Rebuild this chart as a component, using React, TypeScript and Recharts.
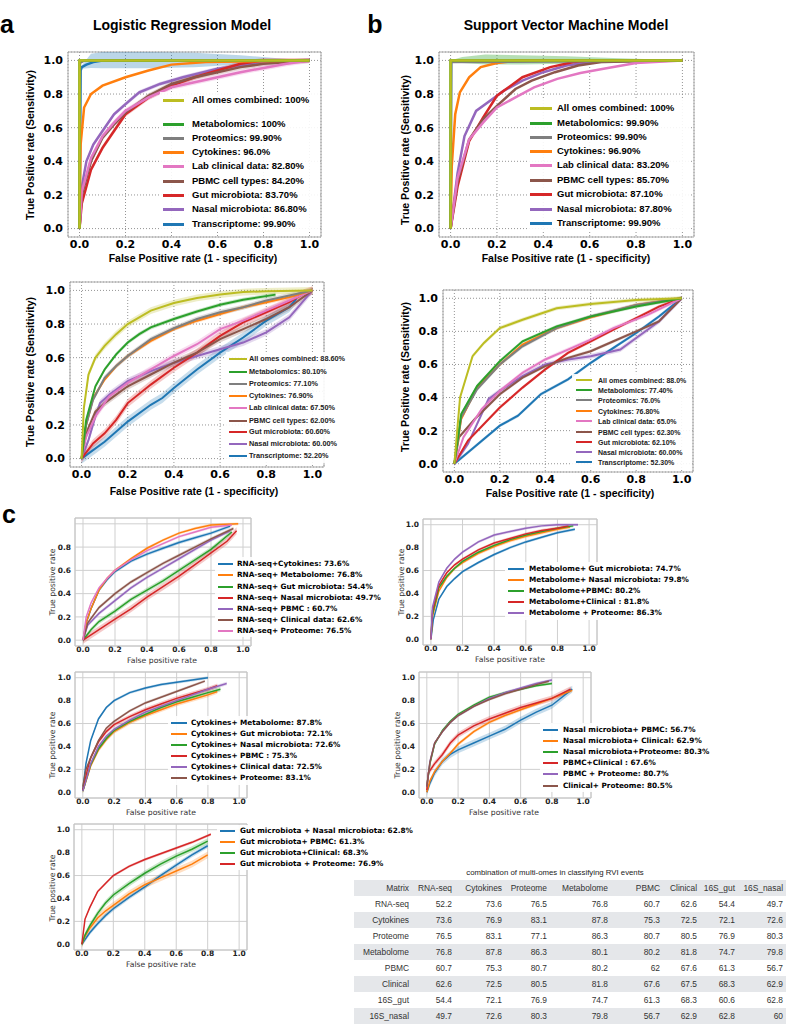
import React from "react";
import {
  ComposedChart,
  Line,
  Area,
  XAxis,
  YAxis,
  CartesianGrid,
  ReferenceArea,
} from "recharts";

type Pt = [number, number];
type Band = [number, number, number];

// tab10 colours
const BLUE = "#1f77b4";
const ORANGE = "#ff7f0e";
const GREEN = "#2ca02c";
const RED = "#d62728";
const PURPLE = "#9467bd";
const BROWN = "#8c564b";
const PINK = "#e377c2";
const GRAY = "#7f7f7f";
const OLIVE = "#bcbd22";

const omicsColors = [OLIVE, GREEN, GRAY, ORANGE, PINK, BROWN, RED, PURPLE, BLUE];

// ---------- a (top): logistic regression ----------
const lrNames = [
  "All omes combined: 100%",
  "Metabolomics: 100%",
  "Proteomics: 99.90%",
  "Cytokines: 96.0%",
  "Lab clinical data: 82.80%",
  "PBMC cell types: 84.20%",
  "Gut microbiota: 83.70%",
  "Nasal microbiota: 86.80%",
  "Transcriptome: 99.90%",
];
const lrAll: Pt[] = [[0, 0], [0, 1], [1, 1]];
const lrMetab: Pt[] = [[0, 0], [0, 1], [1, 1]];
const lrProt: Pt[] = [[0, 0], [0.002, 0.985], [0.02, 0.998], [1, 1]];
const lrCyto: Pt[] = [[0, 0], [0.005, 0.5], [0.02, 0.72], [0.05, 0.8], [0.1, 0.85], [0.2, 0.9], [0.3, 0.94], [0.4, 0.975], [0.55, 0.99], [1, 1]];
const lrLab: Pt[] = [[0, 0], [0.01, 0.22], [0.05, 0.42], [0.1, 0.55], [0.15, 0.63], [0.2, 0.7], [0.3, 0.78], [0.4, 0.84], [0.5, 0.87], [0.6, 0.9], [0.7, 0.93], [0.8, 0.955], [0.9, 0.98], [1, 1]];
const lrPbmc: Pt[] = [[0, 0], [0.01, 0.2], [0.05, 0.4], [0.1, 0.54], [0.15, 0.62], [0.2, 0.69], [0.3, 0.79], [0.4, 0.86], [0.5, 0.9], [0.6, 0.93], [0.7, 0.96], [0.8, 0.98], [1, 1]];
const lrGut: Pt[] = [[0, 0], [0.01, 0.15], [0.05, 0.35], [0.1, 0.48], [0.15, 0.58], [0.2, 0.68], [0.3, 0.78], [0.4, 0.85], [0.5, 0.9], [0.6, 0.94], [0.7, 0.98], [0.8, 1], [1, 1]];
const lrNasal: Pt[] = [[0, 0], [0.01, 0.25], [0.03, 0.4], [0.06, 0.5], [0.1, 0.58], [0.15, 0.68], [0.2, 0.74], [0.26, 0.81], [0.35, 0.86], [0.45, 0.9], [0.6, 0.95], [0.8, 0.99], [1, 1]];
const lrTrans: Pt[] = [[0, 0], [0.005, 0.94], [0.01, 0.96], [0.03, 0.975], [0.06, 0.99], [0.1, 1], [1, 1]];
const lrBandW = [0, 0, 0, 0, 0.015, 0.015, 0.015, 0.012, 0];
const lrTransBand: Band[] = [[0.01, 0.95, 0.97], [0.05, 0.955, 1.04], [0.1, 0.953, 1.05], [0.3, 0.953, 1.05], [0.5, 0.96, 1.045], [0.7, 0.975, 1.03], [0.85, 0.99, 1.015], [1, 1, 1]];

// ---------- b (top): support vector machine ----------
const svmNames = [
  "All omes combined: 100%",
  "Metabolomics: 99.90%",
  "Proteomics: 99.90%",
  "Cytokines: 96.90%",
  "Lab clinical data: 83.20%",
  "PBMC cell types: 85.70%",
  "Gut microbiota: 87.10%",
  "Nasal microbiota: 87.80%",
  "Transcriptome: 99.90%",
];
const svmAll: Pt[] = [[0, 0], [0, 1], [1, 1]];
const svmMetab: Pt[] = [[0, 0], [0, 1], [1, 1]];
const svmProt: Pt[] = [[0, 0], [0.003, 0.99], [1, 1]];
const svmCyto: Pt[] = [[0, 0], [0.005, 0.37], [0.02, 0.68], [0.04, 0.81], [0.08, 0.9], [0.13, 0.96], [0.2, 0.985], [0.3, 1], [1, 1]];
const svmLab: Pt[] = [[0, 0], [0.03, 0.3], [0.08, 0.53], [0.14, 0.63], [0.2, 0.72], [0.28, 0.78], [0.36, 0.84], [0.46, 0.89], [0.56, 0.925], [0.66, 0.95], [0.8, 0.985], [1, 1]];
const svmPbmc: Pt[] = [[0, 0], [0.03, 0.28], [0.08, 0.53], [0.14, 0.65], [0.2, 0.73], [0.28, 0.83], [0.35, 0.88], [0.45, 0.93], [0.55, 0.97], [0.65, 0.99], [1, 1]];
const svmGut: Pt[] = [[0, 0], [0.03, 0.25], [0.08, 0.52], [0.14, 0.66], [0.2, 0.79], [0.31, 0.9], [0.43, 0.96], [0.53, 0.99], [0.6, 1], [1, 1]];
const svmNasal: Pt[] = [[0, 0], [0.03, 0.33], [0.06, 0.55], [0.11, 0.7], [0.2, 0.79], [0.23, 0.82], [0.31, 0.88], [0.4, 0.93], [0.5, 0.97], [0.65, 1], [1, 1]];
const svmTrans: Pt[] = [[0, 0], [0.002, 0.995], [1, 1]];
const svmBandW = [0, 0, 0, 0, 0, 0, 0, 0, 0];
const svmMetabBand: Band[] = [[0, 1, 1], [0.05, 0.985, 1.02], [0.15, 0.975, 1.035], [0.3, 0.975, 1.03], [0.5, 0.98, 1.025], [0.7, 0.985, 1.015], [0.9, 0.995, 1.005], [1, 1, 1]];

// ---------- a (lower): logistic regression, second set ----------
const lr2Names = [
  "All omes combined: 88.60%",
  "Metabolomics: 80.10%",
  "Proteomics: 77.10%",
  "Cytokines: 76.90%",
  "Lab clinical data: 67.50%",
  "PBMC cell types: 62.00%",
  "Gut microbiota: 60.60%",
  "Nasal microbiota: 60.00%",
  "Transcriptome: 52.20%",
];
const lr2All: Pt[] = [[0, 0], [0.01, 0.3], [0.03, 0.5], [0.06, 0.6], [0.1, 0.67], [0.15, 0.74], [0.2, 0.8], [0.3, 0.88], [0.4, 0.925], [0.5, 0.955], [0.6, 0.975], [0.7, 0.99], [0.8, 0.995], [1, 1]];
const lr2Metab: Pt[] = [[0, 0], [0.02, 0.23], [0.06, 0.43], [0.1, 0.53], [0.15, 0.62], [0.2, 0.69], [0.25, 0.74], [0.3, 0.78], [0.4, 0.83], [0.5, 0.875], [0.6, 0.915], [0.7, 0.945], [0.84, 0.975]];
const lr2Prot: Pt[] = [[0, 0], [0.02, 0.2], [0.05, 0.35], [0.1, 0.48], [0.15, 0.55], [0.2, 0.61], [0.3, 0.71], [0.4, 0.775], [0.5, 0.83], [0.6, 0.87], [0.7, 0.9], [0.8, 0.94], [0.9, 0.97], [1, 1]];
const lr2Cyto: Pt[] = [[0, 0], [0.02, 0.2], [0.05, 0.36], [0.1, 0.47], [0.15, 0.55], [0.2, 0.61], [0.3, 0.7], [0.4, 0.77], [0.5, 0.82], [0.6, 0.86], [0.7, 0.9], [0.8, 0.93], [0.9, 0.96], [1, 1]];
const lr2Lab: Pt[] = [[0, 0], [0.02, 0.13], [0.06, 0.25], [0.12, 0.37], [0.2, 0.45], [0.3, 0.53], [0.4, 0.61], [0.5, 0.68], [0.6, 0.77], [0.7, 0.82], [0.8, 0.88], [0.9, 0.94], [1, 1]];
const lr2Pbmc: Pt[] = [[0, 0], [0.02, 0.15], [0.06, 0.28], [0.1, 0.33], [0.15, 0.38], [0.2, 0.43], [0.3, 0.5], [0.4, 0.57], [0.5, 0.63], [0.6, 0.71], [0.7, 0.77], [0.8, 0.83], [0.9, 0.9], [1, 1]];
const lr2Gut: Pt[] = [[0, 0], [0.05, 0.09], [0.1, 0.15], [0.15, 0.23], [0.2, 0.33], [0.3, 0.44], [0.4, 0.54], [0.5, 0.63], [0.6, 0.73], [0.7, 0.81], [0.8, 0.87], [0.9, 0.93], [0.96, 0.98], [1, 1]];
const lr2Nasal: Pt[] = [[0, 0], [0.03, 0.11], [0.06, 0.25], [0.08, 0.33], [0.12, 0.38], [0.2, 0.46], [0.3, 0.52], [0.4, 0.57], [0.5, 0.61], [0.6, 0.65], [0.7, 0.69], [0.8, 0.75], [0.9, 0.84], [1, 1]];
const lr2Trans: Pt[] = [[0, 0], [0.05, 0.05], [0.1, 0.1], [0.2, 0.22], [0.3, 0.32], [0.35, 0.36], [0.4, 0.42], [0.5, 0.53], [0.6, 0.63], [0.7, 0.72], [0.8, 0.82], [0.9, 0.9], [0.93, 0.95]];
const lr2BandW = [0.02, 0.012, 0.015, 0.012, 0.02, 0.02, 0.025, 0.02, 0.03];

// ---------- b (lower): support vector machine, second set ----------
const svm2Names = [
  "All omes combined: 88.0%",
  "Metabolomics: 77.40%",
  "Proteomics: 76.0%",
  "Cytokines: 76.80%",
  "Lab clinical data: 65.0%",
  "PBMC cell types: 62.30%",
  "Gut microbiota: 62.10%",
  "Nasal microbiota: 60.00%",
  "Transcriptome: 52.30%",
];
const svm2All: Pt[] = [[0, 0], [0.025, 0.4], [0.08, 0.65], [0.13, 0.73], [0.2, 0.82], [0.3, 0.87], [0.45, 0.94], [0.6, 0.965], [0.8, 0.99], [1, 1]];
const svm2Metab: Pt[] = [[0, 0], [0.03, 0.3], [0.1, 0.47], [0.2, 0.62], [0.3, 0.74], [0.45, 0.83], [0.6, 0.89], [0.8, 0.95], [1, 1]];
const svm2Prot: Pt[] = [[0, 0], [0.03, 0.28], [0.1, 0.45], [0.2, 0.6], [0.3, 0.71], [0.45, 0.82], [0.6, 0.89], [0.8, 0.96], [1, 1]];
const svm2Cyto: Pt[] = [[0, 0], [0.03, 0.27], [0.1, 0.46], [0.2, 0.6], [0.3, 0.72], [0.45, 0.82], [0.6, 0.885], [0.8, 0.96], [1, 1]];
const svm2Lab: Pt[] = [[0, 0], [0.04, 0.16], [0.12, 0.33], [0.2, 0.44], [0.3, 0.55], [0.4, 0.63], [0.5, 0.69], [0.6, 0.75], [0.7, 0.82], [0.85, 0.9], [1, 1]];
const svm2Pbmc: Pt[] = [[0, 0], [0.02, 0.16], [0.09, 0.27], [0.2, 0.42], [0.3, 0.52], [0.4, 0.59], [0.5, 0.64], [0.6, 0.68], [0.7, 0.74], [0.8, 0.8], [0.9, 0.86], [1, 1]];
const svm2Gut: Pt[] = [[0, 0], [0.06, 0.14], [0.2, 0.34], [0.3, 0.46], [0.4, 0.57], [0.5, 0.67], [0.6, 0.74], [0.7, 0.81], [0.8, 0.88], [0.9, 0.95], [1, 1]];
const svm2Nasal: Pt[] = [[0, 0], [0.06, 0.12], [0.15, 0.39], [0.2, 0.44], [0.3, 0.53], [0.4, 0.6], [0.5, 0.63], [0.6, 0.65], [0.73, 0.69], [0.8, 0.76], [0.9, 0.86], [1, 1]];
const svm2Trans: Pt[] = [[0, 0], [0.07, 0.08], [0.2, 0.23], [0.28, 0.29], [0.38, 0.42], [0.5, 0.51], [0.6, 0.61], [0.7, 0.7], [0.8, 0.79], [0.9, 0.89], [1, 1]];
const svm2BandW = [0.012, 0.01, 0.012, 0.01, 0.012, 0.01, 0.01, 0.015, 0.01];

// ---------- c: pairwise combinations ----------
const rnaNames = [
  "RNA-seq+Cytokines: 73.6%",
  "RNA-seq+ Metabolome: 76.8%",
  "RNA-seq+ Gut microbiota: 54.4%",
  "RNA-seq+ Nasal microbiota: 49.7%",
  "RNA-seq+ PBMC : 60.7%",
  "RNA-seq+ Clinical data: 62.6%",
  "RNA-seq+ Proteome: 76.5%",
];
const rnaColors = [BLUE, ORANGE, GREEN, RED, PURPLE, BROWN, PINK];
const rnaCyto: Pt[] = [[0, 0], [0.02, 0.15], [0.05, 0.27], [0.1, 0.43], [0.15, 0.52], [0.2, 0.59], [0.3, 0.68], [0.4, 0.74], [0.5, 0.79], [0.6, 0.84], [0.7, 0.88], [0.8, 0.92], [0.92, 0.98]];
const rnaMetab: Pt[] = [[0, 0], [0.02, 0.15], [0.05, 0.27], [0.1, 0.43], [0.15, 0.53], [0.2, 0.6], [0.3, 0.7], [0.4, 0.79], [0.5, 0.86], [0.6, 0.92], [0.7, 0.96], [0.8, 0.99], [0.97, 1]];
const rnaGut: Pt[] = [[0, 0], [0.05, 0.09], [0.1, 0.16], [0.2, 0.25], [0.3, 0.35], [0.4, 0.43], [0.5, 0.51], [0.6, 0.6], [0.7, 0.69], [0.8, 0.78], [0.93, 0.93]];
const rnaNasal: Pt[] = [[0, 0], [0.1, 0.09], [0.2, 0.18], [0.3, 0.27], [0.4, 0.37], [0.5, 0.46], [0.6, 0.55], [0.7, 0.65], [0.8, 0.75], [0.9, 0.85], [0.96, 0.94]];
const rnaPbmc: Pt[] = [[0, 0], [0.03, 0.13], [0.1, 0.23], [0.2, 0.34], [0.3, 0.45], [0.4, 0.54], [0.5, 0.62], [0.6, 0.7], [0.7, 0.78], [0.8, 0.86], [0.92, 0.94]];
const rnaClin: Pt[] = [[0, 0], [0.03, 0.15], [0.1, 0.28], [0.2, 0.4], [0.3, 0.5], [0.4, 0.58], [0.5, 0.66], [0.6, 0.73], [0.7, 0.8], [0.8, 0.87], [0.94, 0.96]];
const rnaProt: Pt[] = [[0, 0], [0.02, 0.2], [0.05, 0.32], [0.1, 0.45], [0.15, 0.53], [0.2, 0.6], [0.3, 0.69], [0.4, 0.77], [0.5, 0.83], [0.6, 0.89], [0.7, 0.93], [0.8, 0.97], [0.93, 0.99]];
const rnaBandW = [0.015, 0.012, 0.02, 0.03, 0.015, 0.015, 0.012];

const metNames = [
  "Metabolome+ Gut microbiota: 74.7%",
  "Metabolome+ Nasal microbiota: 79.8%",
  "Metabolome+PBMC: 80.2%",
  "Metabolome+Clinical : 81.8%",
  "Metabolome + Proteome: 86.3%",
];
const metColors = [BLUE, ORANGE, GREEN, RED, PURPLE];
const metGut: Pt[] = [[0, 0], [0.015, 0.17], [0.05, 0.35], [0.1, 0.46], [0.15, 0.53], [0.2, 0.59], [0.3, 0.67], [0.4, 0.74], [0.5, 0.8], [0.6, 0.85], [0.7, 0.89], [0.8, 0.93], [0.91, 0.96]];
const metNasal: Pt[] = [[0, 0], [0.01, 0.2], [0.05, 0.42], [0.1, 0.54], [0.15, 0.62], [0.2, 0.67], [0.3, 0.75], [0.4, 0.81], [0.5, 0.86], [0.6, 0.9], [0.7, 0.93], [0.8, 0.96], [0.88, 0.98]];
const metPbmc: Pt[] = [[0, 0], [0.01, 0.22], [0.05, 0.45], [0.1, 0.55], [0.15, 0.62], [0.2, 0.68], [0.3, 0.76], [0.4, 0.82], [0.5, 0.87], [0.6, 0.91], [0.7, 0.94], [0.8, 0.97], [0.9, 0.99]];
const metClin: Pt[] = [[0, 0], [0.01, 0.25], [0.05, 0.47], [0.1, 0.58], [0.15, 0.65], [0.2, 0.7], [0.3, 0.78], [0.4, 0.84], [0.5, 0.88], [0.6, 0.92], [0.7, 0.95], [0.8, 0.97], [0.87, 0.99]];
const metProt: Pt[] = [[0, 0], [0.01, 0.28], [0.05, 0.5], [0.1, 0.62], [0.15, 0.7], [0.2, 0.76], [0.3, 0.85], [0.4, 0.91], [0.5, 0.94], [0.6, 0.97], [0.7, 0.99], [0.8, 1], [0.93, 1]];
const metBandW = [0.012, 0.015, 0.012, 0.012, 0.012];

const cytNames = [
  "Cytokines+ Metabolome: 87.8%",
  "Cytokines+ Gut microbiota: 72.1%",
  "Cytokines+ Nasal microbiota: 72.6%",
  "Cytokines+ PBMC : 75.3%",
  "Cytokines+ Clinical data: 72.5%",
  "Cytokines+ Proteome: 83.1%",
];
const cytColors = [BLUE, ORANGE, GREEN, RED, PURPLE, BROWN];
const cytMetab: Pt[] = [[0, 0.02], [0.02, 0.25], [0.05, 0.45], [0.1, 0.64], [0.15, 0.74], [0.2, 0.8], [0.3, 0.87], [0.4, 0.91], [0.5, 0.94], [0.6, 0.96], [0.7, 0.98], [0.8, 1]];
const cytGut: Pt[] = [[0, 0.01], [0.03, 0.14], [0.05, 0.23], [0.1, 0.37], [0.15, 0.46], [0.2, 0.53], [0.3, 0.61], [0.4, 0.67], [0.5, 0.72], [0.6, 0.77], [0.7, 0.81], [0.8, 0.85], [0.86, 0.88]];
const cytNasal: Pt[] = [[0, 0.01], [0.03, 0.15], [0.05, 0.24], [0.1, 0.38], [0.15, 0.47], [0.2, 0.54], [0.3, 0.62], [0.4, 0.68], [0.5, 0.74], [0.6, 0.79], [0.7, 0.83], [0.8, 0.87], [0.88, 0.9]];
const cytPbmc: Pt[] = [[0, 0.02], [0.03, 0.2], [0.05, 0.3], [0.1, 0.44], [0.15, 0.53], [0.2, 0.59], [0.3, 0.66], [0.4, 0.72], [0.5, 0.77], [0.6, 0.82], [0.7, 0.86], [0.8, 0.9], [0.86, 0.93]];
const cytClin: Pt[] = [[0, 0.01], [0.03, 0.15], [0.05, 0.25], [0.1, 0.4], [0.15, 0.49], [0.2, 0.55], [0.3, 0.63], [0.4, 0.7], [0.5, 0.75], [0.6, 0.8], [0.7, 0.85], [0.8, 0.9], [0.92, 0.95]];
const cytProt: Pt[] = [[0, 0.05], [0.02, 0.2], [0.05, 0.3], [0.1, 0.45], [0.15, 0.56], [0.2, 0.62], [0.3, 0.71], [0.4, 0.78], [0.5, 0.83], [0.6, 0.88], [0.7, 0.93], [0.78, 0.97]];
const cytBandW = [0.012, 0.02, 0.02, 0.02, 0.015, 0.012];

const nasNames = [
  "Nasal microbiota+ PBMC: 56.7%",
  "Nasal microbiota+ Clinical: 62.9%",
  "Nasal microbiota+Proteome: 80.3%",
  "PBMC+Clinical : 67.6%",
  "PBMC + Proteome: 80.7%",
  "Clinical+ Proteome: 80.5%",
];
const nasColors = [BLUE, ORANGE, GREEN, RED, PURPLE, BROWN];
const nasPbmc: Pt[] = [[0, 0], [0.02, 0.08], [0.05, 0.17], [0.1, 0.27], [0.15, 0.33], [0.2, 0.37], [0.3, 0.43], [0.4, 0.49], [0.5, 0.55], [0.6, 0.63], [0.7, 0.7], [0.8, 0.76], [0.93, 0.9]];
const nasClin: Pt[] = [[0, 0], [0.02, 0.1], [0.05, 0.18], [0.1, 0.27], [0.15, 0.34], [0.2, 0.42], [0.3, 0.53], [0.4, 0.61], [0.5, 0.67], [0.6, 0.72], [0.7, 0.77], [0.8, 0.82], [0.93, 0.89]];
const nasProt: Pt[] = [[0, 0.05], [0.02, 0.25], [0.05, 0.42], [0.1, 0.54], [0.15, 0.62], [0.2, 0.68], [0.3, 0.76], [0.4, 0.83], [0.5, 0.87], [0.6, 0.9], [0.7, 0.93], [0.8, 0.95]];
const pbmcClin: Pt[] = [[0, 0.02], [0.01, 0.17], [0.05, 0.25], [0.1, 0.33], [0.15, 0.43], [0.2, 0.5], [0.3, 0.58], [0.4, 0.64], [0.5, 0.69], [0.6, 0.74], [0.7, 0.78], [0.8, 0.82], [0.92, 0.9]];
const pbmcProt: Pt[] = [[0, 0.05], [0.02, 0.27], [0.05, 0.43], [0.1, 0.53], [0.15, 0.61], [0.2, 0.67], [0.3, 0.75], [0.4, 0.82], [0.5, 0.87], [0.6, 0.91], [0.7, 0.95], [0.8, 0.98]];
const clinProt: Pt[] = [[0, 0.05], [0.02, 0.26], [0.05, 0.43], [0.1, 0.53], [0.15, 0.61], [0.2, 0.67], [0.3, 0.75], [0.4, 0.81], [0.5, 0.86], [0.6, 0.9], [0.7, 0.94], [0.78, 0.97]];
const nasBandW = [0.03, 0.015, 0.012, 0.025, 0.012, 0.012];

const gutNames = [
  "Gut microbiota + Nasal microbiota: 62.8%",
  "Gut microbiota+ PBMC: 61.3%",
  "Gut microbiota+Clinical: 68.3%",
  "Gut microbiota + Proteome: 76.9%",
];
const gutColors = [BLUE, ORANGE, GREEN, RED];
const gutNasal: Pt[] = [[0, 0], [0.02, 0.04], [0.05, 0.1], [0.1, 0.18], [0.15, 0.25], [0.2, 0.31], [0.3, 0.41], [0.4, 0.5], [0.5, 0.6], [0.6, 0.69], [0.7, 0.78], [0.8, 0.86]];
const gutPbmc: Pt[] = [[0, 0], [0.02, 0.07], [0.05, 0.14], [0.1, 0.23], [0.15, 0.29], [0.2, 0.34], [0.3, 0.44], [0.4, 0.52], [0.5, 0.58], [0.6, 0.64], [0.7, 0.7], [0.8, 0.78]];
const gutClin: Pt[] = [[0, 0], [0.02, 0.08], [0.05, 0.16], [0.1, 0.27], [0.15, 0.36], [0.2, 0.43], [0.3, 0.53], [0.4, 0.62], [0.5, 0.7], [0.6, 0.77], [0.7, 0.83], [0.8, 0.9]];
const gutProt: Pt[] = [[0, 0], [0.02, 0.22], [0.05, 0.32], [0.1, 0.46], [0.15, 0.53], [0.2, 0.6], [0.3, 0.68], [0.4, 0.74], [0.5, 0.79], [0.6, 0.84], [0.7, 0.89], [0.82, 0.96]];
const gutBandW = [0.02, 0.03, 0.025, 0.012];

// ---------- table ----------
const tableTitle = "combination of multi-omes in classifying RVI events";
const tableCols = ["Matrix", "RNA-seq", "Cytokines", "Proteome", "Metabolome", "PBMC", "Clinical", "16S_gut", "16S_nasal"];
const tableRows = ["RNA-seq", "Cytokines", "Proteome", "Metabolome", "PBMC", "Clinical", "16S_gut", "16S_nasal"];
const tableValues = [
  [52.2, 73.6, 76.5, 76.8, 60.7, 62.6, 54.4, 49.7],
  [73.6, 76.9, 83.1, 87.8, 75.3, 72.5, 72.1, 72.6],
  [76.5, 83.1, 77.1, 86.3, 80.7, 80.5, 76.9, 80.3],
  [76.8, 87.8, 86.3, 80.1, 80.2, 81.8, 74.7, 79.8],
  [60.7, 75.3, 80.7, 80.2, 62, 67.6, 61.3, 56.7],
  [62.6, 72.5, 80.5, 81.8, 67.6, 67.5, 68.3, 62.9],
  [54.4, 72.1, 76.9, 74.7, 61.3, 68.3, 60.6, 62.8],
  [49.7, 72.6, 80.3, 79.8, 56.7, 62.9, 62.8, 60],
];

const TICKS = [0, 0.2, 0.4, 0.6, 0.8, 1];
const DOMAIN: [number, number] = [-0.05, 1.05];

type LegendSpec = {
  box: [number, number, number, number];
  lx: [number, number];
  tx: number;
  rows: number[];
  size: number;
  family: string;
  lw: number;
  color: string;
};

type Panel = {
  frame: [number, number, number, number];
  names: string[];
  colors: string[];
  curves: Pt[][];
  bandW: number[];
  extra?: { color: string; pts: Band[]; opacity: number }[];
  reverse: boolean;
  lw: number;
  style: "ab" | "c";
  hideTop?: boolean;
  legend: LegendSpec;
  xLabel: [string, number, number];
  yLabel: [string, number, number];
};

const AB_LABEL = { size: 10.5, weight: 700, family: "'Liberation Sans', Arial, sans-serif", color: "#000" };
const C_LABEL = { size: 7.7, weight: 400, family: "'DejaVu Sans', sans-serif", color: "#333" };
const XLAB_AB = "False Positive rate (1 - specificity)";
const YLAB_AB = "True Positive rate (Sensitivity)";
const XLAB_C = "False positive rate";
const YLAB_C = "True positive rate";

const abTopLegend = (box: [number, number, number, number], lx: [number, number], tx: number, rows: number[]): LegendSpec => ({
  box, lx, tx, rows, size: 9.5, family: "'Liberation Sans', Arial, sans-serif", lw: 3, color: "#000",
});
const abLowLegend = (box: [number, number, number, number], lx: [number, number], tx: number, rows: number[], size: number): LegendSpec => ({
  box, lx, tx, rows, size, family: "'Liberation Sans', Arial, sans-serif", lw: 2.5, color: "#222",
});
const cLegend = (box: [number, number, number, number], lx: [number, number], tx: number, rows: number[]): LegendSpec => ({
  box, lx, tx, rows, size: 7.3, family: "'DejaVu Sans', sans-serif", lw: 2, color: "#000",
});

const panels: Panel[] = [
  {
    frame: [68, 52, 253, 185],
    names: lrNames, colors: omicsColors,
    curves: [lrAll, lrMetab, lrProt, lrCyto, lrLab, lrPbmc, lrGut, lrNasal, lrTrans],
    bandW: lrBandW,
    extra: [{ color: BLUE, pts: lrTransBand, opacity: 0.3 }],
    reverse: true, lw: 2.5, style: "ab",
    legend: abTopLegend([160, 92, 318, 232], [163, 184], 192, [100, 124, 138, 152, 166, 181, 195, 209, 224]),
    xLabel: [XLAB_AB, 193, 258], yLabel: [YLAB_AB, 30, 145],
  },
  {
    frame: [439, 52, 255, 185],
    names: svmNames, colors: omicsColors,
    curves: [svmAll, svmMetab, svmProt, svmCyto, svmLab, svmPbmc, svmGut, svmNasal, svmTrans],
    bandW: svmBandW,
    extra: [{ color: GREEN, pts: svmMetabBand, opacity: 0.35 }],
    reverse: true, lw: 2.5, style: "ab",
    legend: abTopLegend([527, 100, 690, 231], [530, 552], 557, [108, 123, 137, 151, 165, 180, 194, 209, 223]),
    xLabel: [XLAB_AB, 566, 258], yLabel: [YLAB_AB, 405, 150],
  },
  {
    frame: [70, 282, 254, 185],
    names: lr2Names, colors: omicsColors,
    curves: [lr2All, lr2Metab, lr2Prot, lr2Cyto, lr2Lab, lr2Pbmc, lr2Gut, lr2Nasal, lr2Trans],
    bandW: lr2BandW,
    reverse: true, lw: 2, style: "ab",
    legend: abLowLegend([226, 352, 348, 463], [229, 247], 249, [359, 372, 384, 396, 408, 421, 432, 444, 456], 7.3),
    xLabel: [XLAB_AB, 194, 491], yLabel: [YLAB_AB, 30, 372],
  },
  {
    frame: [443, 290, 250, 182],
    names: svm2Names, colors: omicsColors,
    curves: [svm2All, svm2Metab, svm2Prot, svm2Cyto, svm2Lab, svm2Pbmc, svm2Gut, svm2Nasal, svm2Trans],
    bandW: svm2BandW,
    reverse: true, lw: 2, style: "ab",
    legend: abLowLegend([572, 374, 692, 468], [576, 592], 598, [380, 390, 400, 411, 421, 432, 442, 452, 462], 7),
    xLabel: [XLAB_AB, 570, 493], yLabel: [YLAB_AB, 405, 377],
  },
  {
    frame: [75, 518, 176, 128],
    names: rnaNames, colors: rnaColors,
    curves: [rnaCyto, rnaMetab, rnaGut, rnaNasal, rnaPbmc, rnaClin, rnaProt],
    bandW: rnaBandW, reverse: false, lw: 1.5, style: "c", hideTop: true,
    legend: cLegend([215, 557, 362, 637], [218, 233], 237, [564, 575, 587, 598, 609, 620, 631]),
    xLabel: [XLAB_C, 162, 661], yLabel: [YLAB_C, 53, 582],
  },
  {
    frame: [423, 519, 174, 126],
    names: metNames, colors: metColors,
    curves: [metGut, metNasal, metPbmc, metClin, metProt],
    bandW: metBandW, reverse: false, lw: 1.5, style: "c",
    legend: cLegend([505, 562, 686, 620], [508, 524], 529, [569, 580, 591, 602, 613]),
    xLabel: [XLAB_C, 510, 660], yLabel: [YLAB_C, 402, 582],
  },
  {
    frame: [75, 672, 172, 126],
    names: cytNames, colors: cytColors,
    curves: [cytMetab, cytGut, cytNasal, cytPbmc, cytClin, cytProt],
    bandW: cytBandW, reverse: false, lw: 1.5, style: "c",
    legend: cLegend([168, 716, 336, 785], [171, 187], 191, [723, 734, 745, 756, 767, 778]),
    xLabel: [XLAB_C, 161, 813], yLabel: [YLAB_C, 53, 745],
  },
  {
    frame: [419, 672, 172, 126],
    names: nasNames, colors: nasColors,
    curves: [nasPbmc, nasClin, nasProt, pbmcClin, pbmcProt, clinProt],
    bandW: nasBandW, reverse: false, lw: 1.5, style: "c",
    legend: cLegend([540, 723, 706, 792], [543, 558], 563, [730, 741, 752, 763, 774, 786]),
    xLabel: [XLAB_C, 504, 813], yLabel: [YLAB_C, 398, 745],
  },
  {
    frame: [74, 824, 173, 126],
    names: gutNames, colors: gutColors,
    curves: [gutNasal, gutPbmc, gutClin, gutProt],
    bandW: gutBandW, reverse: false, lw: 1.5, style: "c",
    legend: cLegend([217, 825, 387, 870], [220, 235], 240, [831, 842, 853, 864]),
    xLabel: [XLAB_C, 161, 965], yLabel: [YLAB_C, 53, 888],
  },
];

const toLine = (pts: Pt[]) => pts.map(([x, y]) => ({ x, y }));
const toBand = (pts: Pt[], w: number) => pts.map(([x, y]) => ({ x, r: [y - w, y + w] }));
const toRange = (b: Band[]) => b.map(([x, lo, hi]) => ({ x, r: [lo, hi] }));

function Txt(props: {
  x: number; y: number; text: string; size: number; weight?: number; family: string;
  color?: string; rotate?: boolean; anchor?: "left" | "center";
}) {
  const { x, y, text, size, weight = 400, family, color = "#000", rotate, anchor = "center" } = props;
  const tx = anchor === "center" ? "-50%" : "0";
  return (
    <div
      style={{
        position: "absolute", left: x, top: y, whiteSpace: "nowrap", lineHeight: 1,
        fontSize: size, fontWeight: weight, fontFamily: family, color,
        transform: `translate(${tx}, -50%)${rotate ? " rotate(-90deg)" : ""}`,
      }}
    >
      {text}
    </div>
  );
}

function Legend({ spec, names, colors }: { spec: LegendSpec; names: string[]; colors: string[] }) {
  const { box, lx, tx, rows, size, family, lw, color } = spec;
  return (
    <>
      <div style={{ position: "absolute", left: box[0], top: box[1], width: box[2] - box[0], height: box[3] - box[1], background: "rgba(255,255,255,0.9)" }} />
      {names.map((n, i) => (
        <React.Fragment key={n}>
          <div style={{ position: "absolute", left: lx[0], top: rows[i] - lw / 2, width: lx[1] - lx[0], height: lw, background: colors[i] }} />
          <Txt x={tx} y={rows[i]} text={n} size={size} weight={700} family={family} color={color} anchor="left" />
        </React.Fragment>
      ))}
    </>
  );
}

function Roc({ p }: { p: Panel }) {
  const [l, t, w, h] = p.frame;
  const ab = p.style === "ab";
  const PL = 40, PT = 4, PR = 6, PB = 24;
  const tickStyle = ab
    ? { fontSize: 11, fontWeight: 700, fill: "#000", fontFamily: "'DejaVu Sans', sans-serif" }
    : { fontSize: 7.5, fontWeight: 700, fill: "#222", fontFamily: "'DejaVu Sans', sans-serif" };
  const idx = p.curves.map((_, i) => i);
  const order = p.reverse ? [...idx].reverse() : idx;
  const lab = ab ? AB_LABEL : C_LABEL;
  return (
    <>
      <div style={{ position: "absolute", left: l - PL, top: t - PT }}>
        <ComposedChart width={w + PL + PR} height={h + PT + PB} margin={{ top: PT, right: PR, left: 0, bottom: 0 }}>
          <CartesianGrid
            stroke={ab ? "#888" : "#cfcfcf"}
            strokeDasharray={ab ? "1 2" : undefined}
            strokeWidth={ab ? 0.9 : 1}
          />
          <XAxis
            type="number" dataKey="x" domain={DOMAIN} allowDataOverflow ticks={TICKS}
            tickFormatter={(v: number) => v.toFixed(1)} axisLine={false} tickLine={false}
            tickSize={ab ? 2 : 0} tickMargin={1} height={PB} tick={tickStyle}
          />
          <YAxis
            type="number" domain={DOMAIN} allowDataOverflow ticks={TICKS}
            tickFormatter={(v: number) => (p.hideTop && v === 1 ? "" : v.toFixed(1))}
            axisLine={false} tickLine={false} tickSize={ab ? 3 : 2} tickMargin={2} width={PL} tick={tickStyle}
          />
          <ReferenceArea
            x1={-0.05} x2={1.05} y1={-0.05} y2={1.05}
            fill="none" fillOpacity={0} stroke={ab ? "#aaa" : "#c4c4c4"} strokeWidth={1} ifOverflow="visible"
          />
          {(p.extra || []).map((e, i) => (
            <Area
              key={`e${i}`} type="linear" dataKey="r" data={toRange(e.pts)} stroke="none"
              fill={e.color} fillOpacity={e.opacity} isAnimationActive={false}
            />
          ))}
          {order.map((i) =>
            p.bandW[i] > 0 ? (
              <Area
                key={`b${i}`} type="linear" dataKey="r" data={toBand(p.curves[i], p.bandW[i])} stroke="none"
                fill={p.colors[i]} fillOpacity={0.25} isAnimationActive={false}
              />
            ) : null
          )}
          {order.map((i) => (
            <Line
              key={`l${i}`} type="linear" dataKey="y" data={toLine(p.curves[i])} stroke={p.colors[i]}
              strokeWidth={p.lw} dot={false} isAnimationActive={false}
            />
          ))}
        </ComposedChart>
      </div>
      <Txt x={p.xLabel[1]} y={p.xLabel[2]} text={p.xLabel[0]} size={lab.size} weight={lab.weight} family={lab.family} color={lab.color} />
      <Txt x={p.yLabel[1]} y={p.yLabel[2]} text={p.yLabel[0]} size={lab.size} weight={lab.weight} family={lab.family} color={lab.color} rotate />
      <Legend spec={p.legend} names={p.names} colors={p.colors} />
    </>
  );
}

function Table() {
  const left = 354, top = 880, width = 432, rowH = 16;
  const colRight = [409, 452, 502, 547, 608, 660, 697, 735, 783];
  const font = "'Liberation Sans', Arial, sans-serif";
  const allRows = [tableCols, ...tableRows.map((r, i) => [r, ...tableValues[i].map(String)])];
  return (
    <>
      <Txt x={555} y={873} text={tableTitle} size={7.8} family={font} color="#222" />
      {allRows.map((cells, r) => (
        <div
          key={r}
          style={{ position: "absolute", left, top: top + r * rowH, width, height: rowH, background: r % 2 === 0 ? "#e5e7ea" : "#fff" }}
        >
          {cells.map((c, j) => (
            <div
              key={j}
              style={{
                position: "absolute", right: left + width - colRight[j], top: 0, height: rowH, lineHeight: `${rowH}px`,
                fontSize: 8.4, fontFamily: font, color: "#333", whiteSpace: "nowrap",
              }}
            >
              {c}
            </div>
          ))}
        </div>
      ))}
    </>
  );
}

export default function App() {
  const bold = "'Liberation Sans', Arial, sans-serif";
  return (
    <div style={{ position: "absolute", left: 0, top: 0, width: 799, height: 1034, background: "#fff", overflow: "hidden" }}>
      <Txt x={7} y={24} text="a" size={25} weight={700} family={bold} />
      <Txt x={375} y={24} text="b" size={25} weight={700} family={bold} />
      <Txt x={9} y={514} text="c" size={25} weight={700} family={bold} />
      <Txt x={182} y={25} text="Logistic Regression Model" size={14} weight={700} family={bold} />
      <Txt x={566} y={25} text="Support Vector Machine  Model" size={14} weight={700} family={bold} />
      {panels.map((p, i) => (
        <Roc key={i} p={p} />
      ))}
      <Table />
    </div>
  );
}
